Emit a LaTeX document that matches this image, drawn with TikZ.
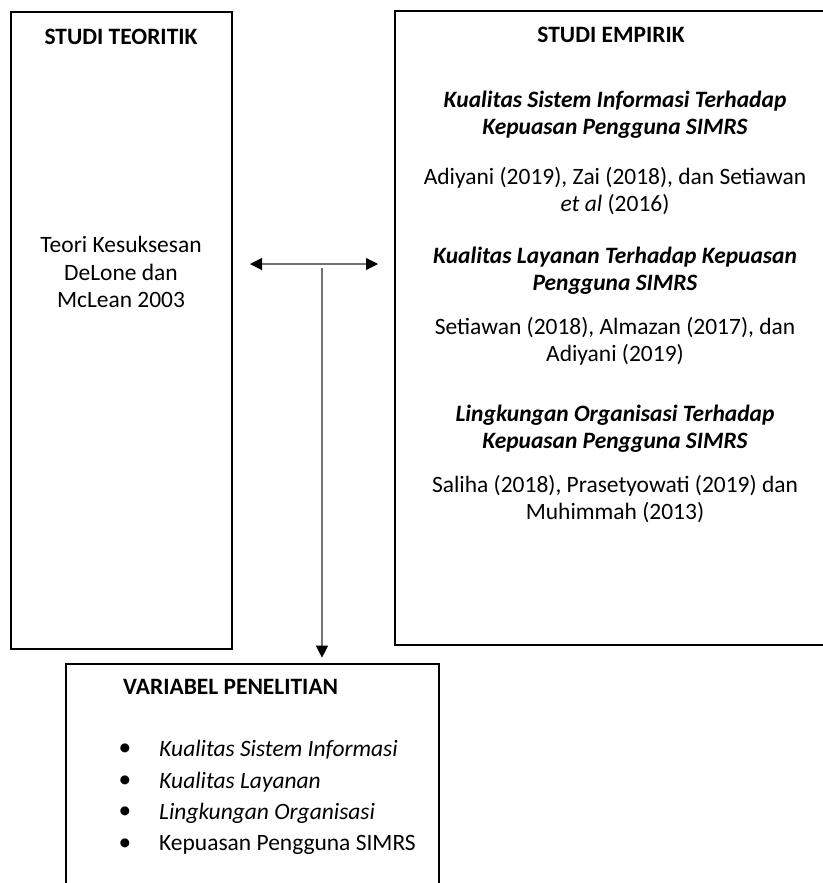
\documentclass[tikz,border=0pt]{standalone}
\usepackage{fontspec}
\setmainfont{Carlito}
\usetikzlibrary{positioning,arrows.meta}

\tikzset{ujung/.tip={Triangle[length=9pt,width=9pt,color=black]}}

\begin{document}
\begin{tikzpicture}[x=0.75pt,y=0.75pt,yscale=-1,xscale=1,
    kotak/.style={draw,line width=1.3pt,inner sep=0pt,anchor=north west},
    judul/.style={font=\fontsize{17.6}{20.5}\selectfont\bfseries},
    judulmiring/.style={font=\fontsize{17.6}{20.5}\selectfont\bfseries\itshape,align=center},
    isi/.style={font=\fontsize{17.6}{20.5}\selectfont,align=center},
    titik/.style={font=\fontsize{19}{19}\selectfont},
    panah/.style={draw=black!55,line width=0.8pt}]
        \useasboundingbox (0,0) rectangle (823,883);

        %Shape: Rectangle [teori]
        \node (teori) [kotak,minimum width=165.75pt,minimum height=477.75pt] at (10,11) {};
        %Shape: Rectangle [empirik]
        \node (empirik) [kotak,minimum width=327pt,minimum height=475.5pt] at (394,10) {};
        %Shape: Rectangle [variabel]
        \node (variabel) [kotak,minimum width=279.75pt,minimum height=180pt] at (65,663) {};

        % Text Node
        \node (jteori) [judul] at (121,37) {STUDI TEORITIK};
        % Text Node
        \node (teks_teori) [isi] at (121,272) {Teori Kesuksesan\\DeLone dan\\McLean 2003};

        % Text Node
        \node (jempirik) [judul] at (611,35) {STUDI EMPIRIK};
        % Text Node
        \node (h1) [judulmiring] at (615,115) {Kualitas Sistem Informasi Terhadap\\Kepuasan Pengguna SIMRS};
        \node (r1) [isi] at (615,191) {Adiyani (2019), Zai (2018), dan Setiawan\\\textit{et al} (2016)};
        \node (h2) [judulmiring] at (615,271) {Kualitas Layanan Terhadap Kepuasan\\Pengguna SIMRS};
        \node (r2) [isi] at (615,341) {Setiawan (2018), Almazan (2017), dan\\Adiyani (2019)};
        \node (h3) [judulmiring] at (615,429) {Lingkungan Organisasi Terhadap\\Kepuasan Pengguna SIMRS};
        \node (r3) [isi] at (615,499) {Saliha (2018), Prasetyowati (2019) dan\\Muhimmah (2013)};

        % Text Node
        \node (jvariabel) [judul,anchor=west] at (118.5,687) {VARIABEL PENELITIAN};
        \node (t1) [isi,anchor=west] at (154.5,750) {\textit{Kualitas Sistem Informasi}};
        \node (t2) [isi,anchor=west] at (154.5,782) {\textit{Kualitas Layanan}};
        \node (t3) [isi,anchor=west] at (154.5,813) {\textit{Lingkungan Organisasi}};
        \node (t4) [isi,anchor=west] at (154.5,845) {Kepuasan Pengguna SIMRS};
        \node (b1) [titik] at (125,750) {•};
        \node (b2) [titik] at (125,782) {•};
        \node (b3) [titik] at (125,813) {•};
        \node (b4) [titik] at (125,845) {•};

        %Straight Lines [panah dua arah]
        \coordinate (kiri) at (250,264);
        \coordinate (kanan) at (378,264);
        \draw [panah,ujung-ujung] (kiri) -- (kanan);
        %Straight Lines [panah ke bawah]
        \coordinate (cabang) at (322,268);
        \draw [panah,-ujung,shorten >=4pt] (cabang) -- (variabel.north -| cabang);
\end{tikzpicture}
\end{document}
